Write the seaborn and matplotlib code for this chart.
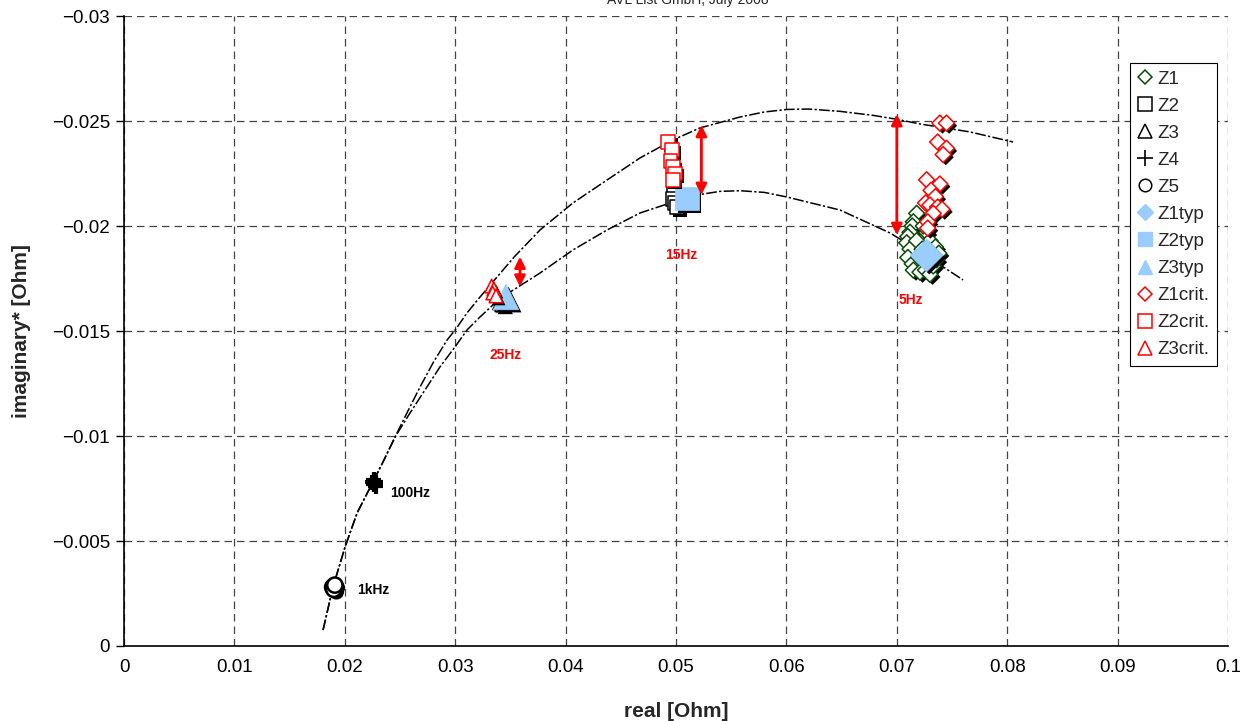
import matplotlib
matplotlib.use("Agg")
import matplotlib.pyplot as plt
import matplotlib.patheffects as pe
from matplotlib.lines import Line2D
import pandas as pd
import seaborn as sns

# ---------------- data ----------------
x_ticks = [0, 0.01, 0.02, 0.03, 0.04, 0.05, 0.06, 0.07, 0.08, 0.09, 0.1]
x_tick_labels = ["0", "0.01", "0.02", "0.03", "0.04", "0.05", "0.06", "0.07", "0.08", "0.09", "0.1"]
y_ticks = [-0.03, -0.025, -0.02, -0.015, -0.01, -0.005, 0]
y_tick_labels = ["\u22120.03", "\u22120.025", "\u22120.02", "\u22120.015", "\u22120.01", "\u22120.005", "0"]

# trend lines
outer_x = [0.01803, 0.01893, 0.02002, 0.02111, 0.02255, 0.02355, 0.02455, 0.02563, 0.02681, 0.02799,
           0.02926, 0.03000, 0.03107, 0.03225, 0.03333, 0.03542, 0.03768, 0.04067, 0.04375, 0.04674,
           0.04973, 0.05217, 0.05580, 0.05800, 0.06005, 0.06200, 0.06486, 0.06784, 0.07002, 0.07210,
           0.07663, 0.08053]
outer_y = [-0.00076, -0.00281, -0.00471, -0.00633, -0.00781, -0.00886, -0.00995, -0.01110, -0.01233, -0.01348,
           -0.01457, -0.01505, -0.01586, -0.01662, -0.01729, -0.01857, -0.01981, -0.02110, -0.02219, -0.02324,
           -0.02410, -0.02467, -0.02519, -0.02543, -0.02555, -0.02557, -0.02546, -0.02527, -0.02508, -0.02486,
           -0.02448, -0.02400]
inner_x = [0.01803, 0.01893, 0.02002, 0.02111, 0.02255, 0.02355, 0.02455, 0.02591, 0.02726, 0.02862,
           0.02998, 0.03107, 0.03225, 0.03342, 0.03469, 0.03768, 0.04067, 0.04375, 0.04674, 0.04973,
           0.05217, 0.05400, 0.05580, 0.05800, 0.06005, 0.06486, 0.06938, 0.07147, 0.07600]
inner_y = [-0.00076, -0.00281, -0.00471, -0.00633, -0.00781, -0.00886, -0.00995, -0.01110, -0.01219, -0.01329,
           -0.01424, -0.01505, -0.01567, -0.01624, -0.01676, -0.01776, -0.01886, -0.01981, -0.02062, -0.02114,
           -0.02150, -0.02165, -0.02168, -0.02160, -0.02138, -0.02076, -0.01967, -0.01900, -0.01743]

z1_x = [0.0718, 0.0715, 0.0714, 0.0712, 0.0710, 0.0709, 0.0712, 0.0710, 0.0714, 0.0715, 0.0721, 0.0726,
        0.0730, 0.0733, 0.0727, 0.0730, 0.0735, 0.0738, 0.0724, 0.0718, 0.0723, 0.0720, 0.0736]
z1_y = [-0.0206, -0.0202, -0.0200, -0.0197, -0.0195, -0.0192, -0.0189, -0.0185, -0.0182, -0.0179, -0.0178, -0.0179,
        -0.0177, -0.0181, -0.0197, -0.0193, -0.0190, -0.0187, -0.0200, -0.0193, -0.0189, -0.0185, -0.0184]
z2_x = [0.0498, 0.0497, 0.0499, 0.0501]
z2_y = [-0.0216, -0.0213, -0.0211, -0.0209]
z3_x = [0.0341, 0.0343]
z3_y = [-0.01638, -0.01629]
z4_x = [0.0225, 0.0226, 0.0226]
z4_y = [-0.0078, -0.0077, -0.0079]
z5_x = [0.0189, 0.0190, 0.0191]
z5_y = [-0.0028, -0.0027, -0.0029]

z1typ_x = [0.0727]
z1typ_y = [-0.0186]
z2typ_x = [0.0510]
z2typ_y = [-0.0213]
z3typ_x = [0.0346]
z3typ_y = [-0.01662]

z1crit_x = [0.0739, 0.0745, 0.0737, 0.0745, 0.0742, 0.0727, 0.0739, 0.0731, 0.0735, 0.0726, 0.0730,
            0.0737, 0.0741, 0.0733, 0.0728, 0.0728]
z1crit_y = [-0.0249, -0.0249, -0.0240, -0.0237, -0.0234, -0.0222, -0.0220, -0.0217, -0.0214, -0.0211, -0.0210,
            -0.0209, -0.0208, -0.0206, -0.0202, -0.0199]
z2crit_x = [0.0493, 0.0496, 0.0495, 0.0497, 0.0499, 0.0497]
z2crit_y = [-0.0240, -0.0236, -0.0231, -0.0228, -0.0225, -0.0222]
z3crit_x = [0.0333, 0.0335, 0.0334, 0.0337]
z3crit_y = [-0.01714, -0.01700, -0.01681, -0.01667]

# double arrows: x, y_top, y_bottom
arrow_x = [0.03587, 0.0523, 0.0700]
arrow_top = [-0.01854, -0.02481, -0.02533]
arrow_bot = [-0.01711, -0.02148, -0.01957]

freq_labels = ["25Hz", "15Hz", "5Hz", "100Hz", "1kHz"]
freq_x = [0.0346, 0.0505, 0.0713, 0.0259, 0.0226]
freq_y = [-0.01386, -0.01862, -0.01648, -0.00727, -0.00267]
freq_colors = ["red", "red", "red", "black", "black"]

# ---------------- style ----------------
sns.set_theme(style="white")
plt.rcParams["font.family"] = ["Liberation Sans", "DejaVu Sans"]

fig = plt.figure(figsize=(12.4, 7.21), dpi=100)
ax = fig.add_axes([124 / 1240, 1 - 646 / 721, 1104 / 1240, 630 / 721])

GREEN = "#0b4a0b"
BLUE = "#99ccff"
RED = "#ff0000"

shadow = [pe.SimplePatchShadow(offset=(1.9, -1.9), shadow_rgbFace="black", alpha=1.0), pe.Normal()]
line_shadow = [pe.Stroke(offset=(1.5, -1.5), foreground="black", linewidth=3), pe.Normal()]

# trend lines
for cx, cy in [(outer_x, outer_y), (inner_x, inner_y)]:
    sns.lineplot(x=cx, y=cy, ax=ax, color="black", linewidth=1.1, sort=False,
                 estimator=None, linestyle=(0, (7, 1.5, 1.5, 1.5)), zorder=2)


def scat(xs, ys, marker, size, face, edge, lw, effects, z):
    df = pd.DataFrame({"x": xs, "y": ys})
    sns.scatterplot(data=df, x="x", y="y", ax=ax, marker=marker, s=size,
                    color=face, edgecolor=edge, linewidth=lw, zorder=z, legend=False)
    ax.collections[-1].set_path_effects(effects)


scat(z1_x, z1_y, "D", 66, "white", GREEN, 1.1, shadow, 3)
scat(z2_x, z2_y, "s", 100, "white", "black", 1.1, shadow, 3)
scat(z3_x, z3_y, "^", 120, "white", "black", 1.1, shadow, 3)
df4 = pd.DataFrame({"x": z4_x, "y": z4_y})
sns.scatterplot(data=df4, x="x", y="y", ax=ax, marker="+", s=120, color="black",
                linewidth=3, zorder=3, legend=False)
ax.collections[-1].set_path_effects(line_shadow)
scat(z5_x, z5_y, "o", 120, "white", "black", 1.8, shadow, 3)

scat(z1typ_x, z1typ_y, "D", 280, BLUE, BLUE, 0.5, shadow, 4)
scat(z2typ_x, z2typ_y, "s", 280, BLUE, BLUE, 0.5, shadow, 4)
scat(z3typ_x, z3typ_y, "^", 340, BLUE, BLUE, 0.5, shadow, 4)

scat(z1crit_x, z1crit_y, "D", 66, "white", RED, 1.1, shadow, 5)
scat(z2crit_x, z2crit_y, "s", 100, "white", RED, 1.1, shadow, 5)
scat(z3crit_x, z3crit_y, "^", 95, "white", RED, 1.1, shadow, 5)

# arrows
for axx, yt, yb in zip(arrow_x, arrow_top, arrow_bot):
    ax.annotate("", xy=(axx, yt), xytext=(axx, yb),
                arrowprops=dict(arrowstyle="<|-|>", color=RED, lw=2.0,
                                mutation_scale=16, shrinkA=0, shrinkB=0), zorder=6)

for lab, fx, fy, fc in zip(freq_labels, freq_x, freq_y, freq_colors):
    ax.text(fx, fy, lab, color=fc, fontsize=10, fontweight="bold", ha="center", va="center", zorder=7)

# axes
ax.set_xlim(0, 0.1)
ax.set_ylim(0, -0.03)
ax.set_xticks(x_ticks)
ax.set_xticklabels(x_tick_labels)
ax.set_yticks(y_ticks)
ax.set_yticklabels(y_tick_labels)
ax.tick_params(axis="x", length=0, pad=9, labelsize=13.5, colors="black")
ax.tick_params(axis="y", length=6, width=1, direction="out", pad=4, labelsize=13.5,
               colors="black", left=True)
ax.grid(True, color="#444444", linestyle=(0, (6, 4)), linewidth=0.9)
for side in ["top", "right"]:
    ax.spines[side].set_visible(False)
for side in ["left", "bottom"]:
    ax.spines[side].set_color("black")
    ax.spines[side].set_linewidth(1.2)
ax.set_xlabel("real [Ohm]", fontsize=15, fontweight="bold")
ax.set_ylabel("imaginary* [Ohm]", fontsize=15, fontweight="bold")
ax.xaxis.set_label_coords(0.5, -(702 - 646) / 630)
ax.yaxis.set_label_coords(-(124 - 31) / 1104, 0.5)

fig.text(688 / 1240, 1 - 4 / 721, "AVL List GmbH, July 2008", fontsize=10,
         ha="center", va="baseline")

# legend
handles = [
    Line2D([], [], ls="none", marker="D", ms=7, mfc="white", mec=GREEN, mew=1.1),
    Line2D([], [], ls="none", marker="s", ms=10, mfc="white", mec="black", mew=1.1),
    Line2D([], [], ls="none", marker="^", ms=10, mfc="white", mec="black", mew=1.1),
    Line2D([], [], ls="none", marker="+", ms=11, mec="black", mew=1.2),
    Line2D([], [], ls="none", marker="o", ms=9, mfc="white", mec="black", mew=1.1),
    Line2D([], [], ls="none", marker="D", ms=8, mfc=BLUE, mec=BLUE),
    Line2D([], [], ls="none", marker="s", ms=10, mfc=BLUE, mec=BLUE),
    Line2D([], [], ls="none", marker="^", ms=10, mfc=BLUE, mec=BLUE),
    Line2D([], [], ls="none", marker="D", ms=7, mfc="white", mec=RED, mew=1.1),
    Line2D([], [], ls="none", marker="s", ms=10, mfc="white", mec=RED, mew=1.1),
    Line2D([], [], ls="none", marker="^", ms=10, mfc="white", mec=RED, mew=1.1),
]
labels = ["Z1", "Z2", "Z3", "Z4", "Z5", "Z1typ", "Z2typ", "Z3typ", "Z1crit.", "Z2crit.", "Z3crit."]
leg = ax.legend(handles, labels, loc="upper left", bbox_to_anchor=((1130 - 124) / 1104, 1 - (63 - 16) / 630),
                borderaxespad=0, fontsize=13.5, frameon=True, fancybox=False, framealpha=1,
                edgecolor="black", handlelength=0.8, handletextpad=0.25, labelspacing=0.53,
                borderpad=0.4)
leg.get_frame().set_linewidth(0.8)
leg.set_zorder(10)

fig.savefig("out.png", dpi=100)
